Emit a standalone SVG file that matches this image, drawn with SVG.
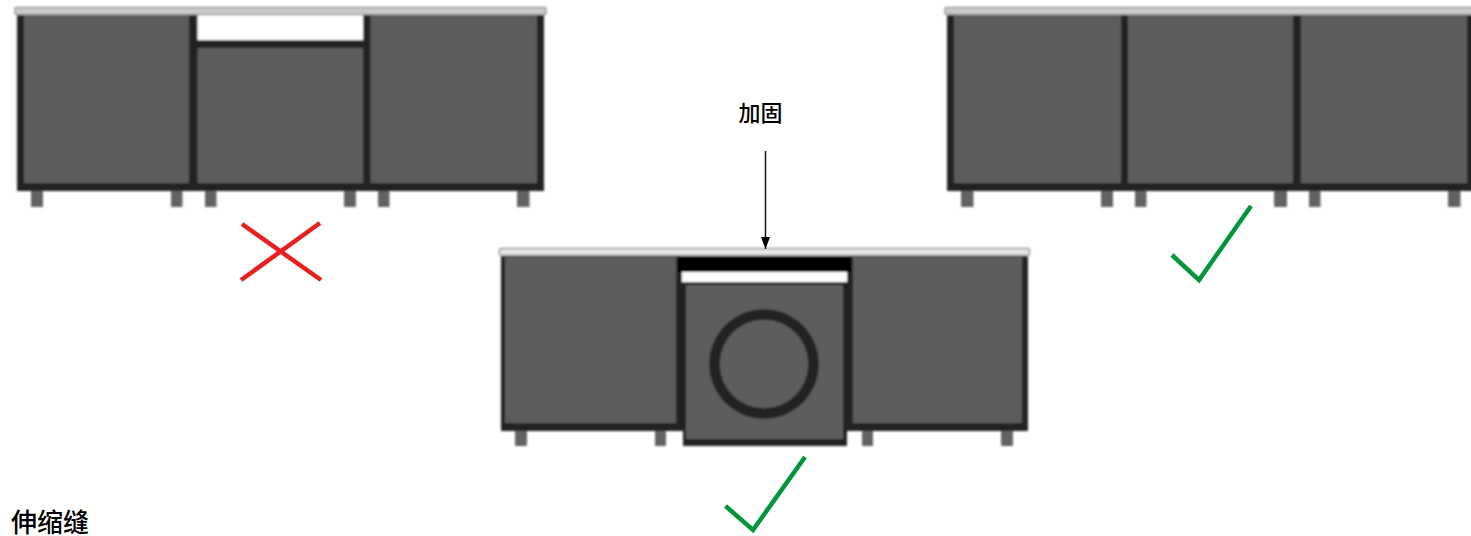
<svg xmlns="http://www.w3.org/2000/svg" width="1471" height="536" viewBox="0 0 1471 536">
<style>
.frame{fill:#232424}
.panel{fill:#5b5b5a}
.top{fill:#cbccca;stroke:#9a9a9a;stroke-width:1.500}
.foot{fill:#626261}
.label{font-family:"Liberation Sans","Noto Sans CJK SC",sans-serif;fill:#000;font-weight:500}
.ok{fill:none;stroke:#009639;stroke-width:4.500}
.no{fill:none;stroke:#e6211f;stroke-width:4.500}
</style>
<defs>
<filter id="soft" x="-2%" y="-2%" width="104%" height="104%"><feGaussianBlur stdDeviation="0.8"/></filter>
<marker id="head" markerUnits="userSpaceOnUse" markerWidth="12" markerHeight="9" refX="12" refY="4.500" orient="auto"><path d="M0 0L12 4.500L0 9Z" fill="#000"/></marker>
</defs>
<rect width="1471" height="536" fill="#fff"/>
<g id="cabinet-left" filter="url(#soft)">
<rect class="foot" x="31" y="190" width="12" height="17"/><rect class="foot" x="171" y="190" width="11.500" height="17"/><rect class="foot" x="205" y="190" width="11.500" height="17"/><rect class="foot" x="344" y="190" width="12" height="17"/><rect class="foot" x="378" y="190" width="11.500" height="17"/><rect class="foot" x="517" y="190" width="12.500" height="17"/>
<rect class="frame" x="17" y="14" width="527" height="177"/>
<rect class="panel" x="24" y="15" width="165" height="168"/>
<rect x="197.500" y="15" width="165.500" height="25" fill="#fff"/>
<rect class="panel" x="197.500" y="48" width="165.500" height="135"/>
<rect class="panel" x="370.500" y="15" width="166.500" height="168"/>
<rect class="top" x="15" y="7.500" width="531" height="7" rx="1"/>
</g>
<g id="cabinet-right" filter="url(#soft)">
<rect class="foot" x="961" y="190" width="12.500" height="17"/><rect class="foot" x="1101" y="190" width="12" height="17"/><rect class="foot" x="1135" y="190" width="11.500" height="17"/><rect class="foot" x="1274" y="190" width="13" height="17"/><rect class="foot" x="1309" y="190" width="11.500" height="17"/><rect class="foot" x="1448" y="190" width="12.500" height="17"/>
<rect class="frame" x="947" y="14" width="526" height="177"/>
<rect class="panel" x="954" y="15" width="167" height="168"/>
<rect class="panel" x="1128" y="15" width="165" height="168"/>
<rect class="panel" x="1301" y="15" width="166" height="168"/>
<rect class="top" x="945" y="7.500" width="530" height="7" rx="1"/>
</g>
<g id="cabinet-center" filter="url(#soft)">
<rect class="foot" x="515" y="430" width="12" height="16"/><rect class="foot" x="655" y="430" width="11" height="16"/><rect class="foot" x="862" y="430" width="11" height="16"/><rect class="foot" x="1001" y="430" width="12" height="16"/>
<rect class="frame" x="501" y="255" width="527" height="176"/>
<rect class="panel" x="505" y="257" width="171" height="166"/>
<rect class="panel" x="853" y="257" width="169" height="166"/>
<rect x="678" y="256" width="173" height="16" fill="#000"/>
<rect x="682" y="272" width="165" height="10" fill="#fff"/>
<rect class="frame" x="683" y="282" width="164" height="164"/>
<rect fill="#5d5d5d" x="686" y="285" width="157" height="154"/>
<circle cx="764" cy="364" r="49.500" fill="#5d5d5d" stroke="#232424" stroke-width="10.500"/>
<rect class="top" x="499.500" y="248.500" width="530" height="7" rx="1" style="fill:#e6e6e4"/>
</g>
<g id="connectors">
<line x1="765.500" y1="151" x2="765.500" y2="249" stroke="#1a1a1a" stroke-width="1.500" marker-end="url(#head)"/>
</g>
<g id="mark-cross"><path class="no" d="M242 224L321 280M320 223L241 280"/></g>
<g id="mark-check-right"><path class="ok" d="M1172 255L1199 280L1251 206"/></g>
<g id="mark-check-center"><path class="ok" d="M725.500 506L753 530L805 457"/></g>
<g id="label-reinforce"><text class="label" x="760.500" y="121" font-size="22" text-anchor="middle">加固</text></g>
<g id="label-joint"><text class="label" x="11" y="532" font-size="26">伸缩缝</text></g>
</svg>
